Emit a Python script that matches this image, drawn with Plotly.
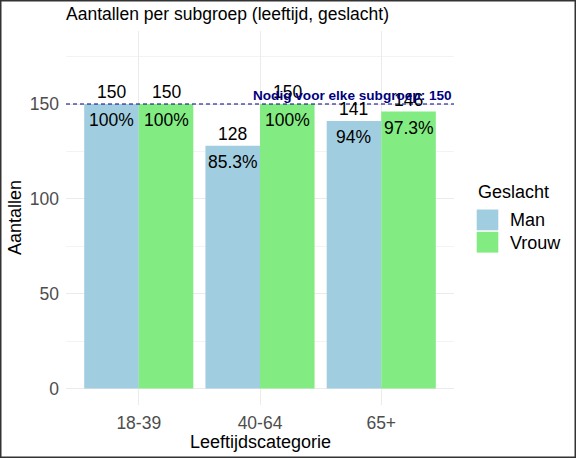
import plotly.graph_objects as go

# ---- data ----
categories = ["18-39", "40-64", "65+"]
man_counts = [150, 128, 141]
vrouw_counts = [150, 150, 146]
target = 150
series_names = ["Man", "Vrouw"]
series_colors = ["#A0CEE0", "#82EC82"]
y_ticks = [0, 50, 100, 150]

W, H = 576, 458
ML, MR, MT, MB = 66, 122, 31, 53
PW, PH = W - ML - MR, H - MT - MB


def px2x(px):
    return (px - ML) / PW


def py2y(py):
    return (H - MB - py) / PH


FONT = "Liberation Sans"
fig = go.Figure()

bar_w = 0.45
offsets = [-bar_w / 2, bar_w / 2]
series = [man_counts, vrouw_counts]
xs = list(range(1, len(categories) + 1))

annotations = []
for name, vals, col, off in zip(series_names, series, series_colors, offsets):
    bx = [x + off for x in xs]
    fig.add_trace(go.Bar(x=bx, y=vals, width=bar_w, name=name,
                         marker=dict(color=col, line=dict(width=0)),
                         showlegend=False, hoverinfo="skip"))
    for x, v in zip(bx, vals):
        pct = round(v / target * 100, 1)
        annotations.append(dict(x=x, y=v, xref="x", yref="y", text=str(v),
                                showarrow=False, yshift=12, yanchor="middle",
                                font=dict(family=FONT, size=17.5, color="black")))
        annotations.append(dict(x=x, y=v, xref="x", yref="y", text=f"{pct:g}%",
                                showarrow=False, yshift=-16, yanchor="middle",
                                font=dict(family=FONT, size=17.5, color="black")))

# target annotation
annotations.append(dict(x=1, xref="paper", y=target, yref="y",
                        text="<b>Nodig voor elke subgroep: 150</b>",
                        xanchor="right", yanchor="middle", yshift=9, showarrow=False,
                        font=dict(family=FONT, size=13.6, color="#000080")))

# axis titles
annotations.append(dict(x=0.5, xref="paper", y=py2y(441.7), yref="paper",
                        text="Leeftijdscategorie", showarrow=False,
                        xanchor="center", yanchor="middle",
                        font=dict(family=FONT, size=18, color="black")))
annotations.append(dict(x=px2x(15), xref="paper", y=0.5, yref="paper",
                        text="Aantallen", showarrow=False, textangle=-90,
                        xanchor="center", yanchor="middle",
                        font=dict(family=FONT, size=18, color="black")))

# legend (manual)
annotations.append(dict(x=px2x(476), xref="paper", y=py2y(191.7), yref="paper",
                        text="Geslacht", showarrow=False, xanchor="left",
                        yanchor="middle", font=dict(family=FONT, size=18, color="black")))
shapes = []
key_tops = [209.5, 231.8]
label_y = [220, 243]
for name, col, kt, ly in zip(series_names, series_colors, key_tops, label_y):
    shapes.append(dict(type="rect", xref="paper", yref="paper",
                       x0=px2x(476.7), x1=px2x(498.3), y0=py2y(kt + 20.8), y1=py2y(kt),
                       fillcolor=col, line=dict(width=0)))
    annotations.append(dict(x=px2x(507.5), xref="paper", y=py2y(ly), yref="paper",
                            text=name, showarrow=False, xanchor="left", yanchor="middle",
                            font=dict(family=FONT, size=18, color="black")))

# target line
shapes.append(dict(type="line", xref="paper", x0=0, x1=1, yref="y", y0=target, y1=target,
                   line=dict(color="#000080", width=1.2, dash="4px,3px")))

# border
shapes.append(dict(type="rect", xref="paper", yref="paper",
                   x0=px2x(0.75), x1=px2x(W - 0.75), y0=py2y(H - 0.75), y1=py2y(0.75),
                   line=dict(color="#333333", width=1.5), fillcolor="rgba(0,0,0,0)"))

fig.update_layout(
    width=W, height=H,
    margin=dict(l=ML, r=MR, t=MT, b=MB, pad=0),
    paper_bgcolor="white", plot_bgcolor="white",
    barmode="overlay",
    title=dict(text="Aantallen per subgroep (leeftijd, geslacht)",
               x=66 / W, xref="container", xanchor="left",
               y=1 - 14 / H, yref="container", yanchor="middle",
               font=dict(family=FONT, size=17.5, color="black")),
    annotations=annotations,
    shapes=shapes,
    font=dict(family=FONT),
)
fig.update_xaxes(range=[0.4, len(categories) + 0.6], tickvals=xs, ticktext=categories,
                 showgrid=True, gridcolor="#EBEBEB", gridwidth=1, zeroline=False,
                 ticks="", ticklabelstandoff=5, showline=False,
                 tickfont=dict(family=FONT, size=17.5, color="#4D4D4D"))
fig.update_yaxes(range=[-8.7, 188.5], tickvals=y_ticks,
                 showgrid=True, gridcolor="#EBEBEB", gridwidth=1, zeroline=False,
                 minor=dict(dtick=25, tick0=0, showgrid=True, gridcolor="#F3F3F3", gridwidth=0.6),
                 ticks="", ticklabelstandoff=6, showline=False,
                 tickfont=dict(family=FONT, size=17.5, color="#4D4D4D"))

fig.write_html("out.html", config={"displayModeBar": False},
               post_script="document.body.style.margin='0';document.body.style.overflow='hidden';")
